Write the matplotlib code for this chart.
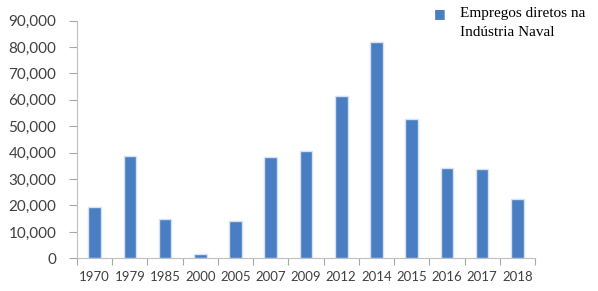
import numpy as np
import matplotlib
matplotlib.use("Agg")
import matplotlib.pyplot as plt
from matplotlib.ticker import FuncFormatter

years = ["1970", "1979", "1985", "2000", "2005", "2007", "2009",
         "2012", "2014", "2015", "2016", "2017", "2018"]
empregos = [19500, 38900, 14800, 1500, 14100, 38500, 40600,
            61300, 81900, 52800, 34300, 33700, 22500]
legend_label = "Empregos diretos na\nIndústria Naval"

fig = plt.figure(figsize=(5.98, 2.91), dpi=100)
ax = fig.add_axes([0.1288, 0.1124, 0.7658, 0.8165])

x = np.arange(len(years))
ax.bar(x, empregos, width=0.36, color="#4A7EC2",
       edgecolor="#d6e2f4", linewidth=1.0, zorder=3)

ax.set_xlim(-0.5, len(years) - 0.5)
ax.set_ylim(0, 90000)
ax.set_yticks(np.arange(0, 90001, 10000))
ax.yaxis.set_major_formatter(FuncFormatter(lambda v, p: f"{int(v):,}"))

ax.set_xticks(x)
ax.set_xticklabels(years)
ax.set_xticks(np.arange(-0.5, len(years), 1.0), minor=True)
ax.tick_params(axis="x", which="major", length=0, pad=9,
               labelsize=9.5, labelcolor="#404040")
ax.tick_params(axis="x", which="minor", length=5, color="#a6a6a6", width=0.8)
ax.tick_params(axis="y", length=6, color="#a6a6a6", width=0.8, pad=9,
               labelsize=11, labelcolor="#404040")
for lbl in ax.get_xticklabels() + ax.get_yticklabels():
    lbl.set_fontfamily("Lato")

for side in ["top", "right"]:
    ax.spines[side].set_visible(False)
for side in ["left", "bottom"]:
    ax.spines[side].set_color("#bfbfbf")
    ax.spines[side].set_linewidth(0.8)

# legend drawn in figure coords, top right
fig.text(0.735, 0.955, "\u25A0", color="#4A7EC2", fontsize=9,
         ha="center", va="center", family="DejaVu Sans")
fig.text(0.769, 0.976, legend_label, fontsize=11, ha="left", va="top",
         family="Liberation Serif", color="#000000", linespacing=1.6)

fig.savefig("out.png", dpi=100)
